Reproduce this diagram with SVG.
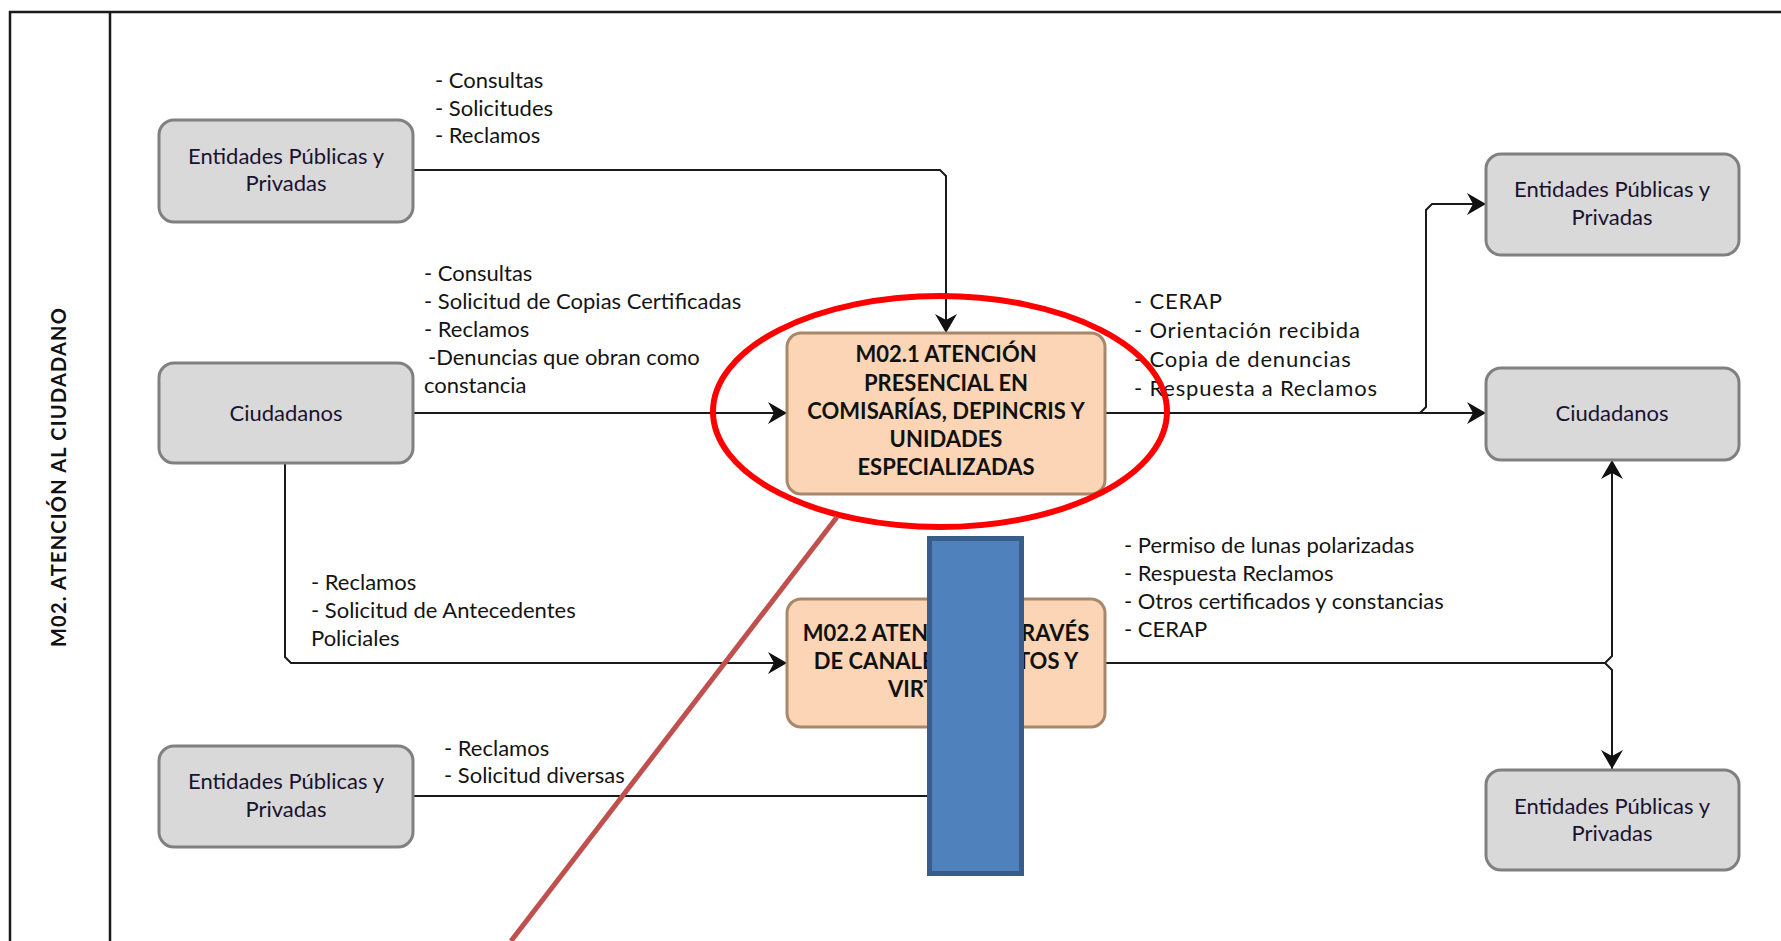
<svg xmlns="http://www.w3.org/2000/svg" width="1781" height="941" viewBox="0 0 1781 941">
<defs>
<style>
.lbl{font-family:Lato,"Liberation Sans",sans-serif;font-size:22px;fill:#141414}
.lbw{font-family:Lato,"Liberation Sans",sans-serif;font-size:22px;letter-spacing:0.8px;fill:#141414}
.nt{font-family:Lato,"Liberation Sans",sans-serif;font-size:22px;fill:#1a1230;text-anchor:middle}
.pt{font-family:Lato,"Liberation Sans",sans-serif;font-size:22px;font-weight:bold;fill:#111;text-anchor:middle}
.gray{fill:#D9D9D9;stroke:#808080;stroke-width:3}
.proc{fill:#FBD5B5;stroke:#A8876B;stroke-width:3}
.con{fill:none;stroke:#1a1a1a;stroke-width:2}
</style>
<marker id="ah" markerWidth="20" markerHeight="24" viewBox="-20 -12 20 24" refX="0" refY="0" orient="auto" markerUnits="userSpaceOnUse">
<path d="M0,0 L-19,-11 L-13,0 L-19,11 Z" fill="#111"/>
</marker>
</defs>
<rect x="0" y="0" width="1781" height="941" fill="#fff"/>
<g id="frame">
<rect x="10" y="12" width="1800" height="1000" fill="none" stroke="#1a1a1a" stroke-width="2.5"/>
<line x1="110" y1="12" x2="110" y2="941" stroke="#1a1a1a" stroke-width="2.5"/>
<text transform="translate(66,477) rotate(-90)" font-family="Lato,'Liberation Sans',sans-serif" font-size="20" font-weight="bold" letter-spacing="1.2" fill="#111" text-anchor="middle">M02. ATENCIÓN AL CIUDADANO</text>
</g>
<g id="connectors">
<path class="con" d="M412,170 H940 L946,176 V333" marker-end="url(#ah)"/>
<path class="con" d="M412,413 H787" marker-end="url(#ah)"/>
<path class="con" d="M285,463 V657 L291,663 H787" marker-end="url(#ah)"/>
<path class="con" d="M412,796 H929"/>
<path class="con" d="M1105,413 H1486" marker-end="url(#ah)"/>
<path class="con" d="M1420,413 L1426,407 V210 L1432,204 H1486" marker-end="url(#ah)"/>
<path class="con" d="M1105,663 H1605 L1612,656 V460" marker-end="url(#ah)"/>
<path class="con" d="M1605,663 L1612,670 V769" marker-end="url(#ah)"/>
</g>
<g id="labels">
<text class="lbl"><tspan x="435" y="88">- Consultas</tspan><tspan x="435" y="116">- Solicitudes</tspan><tspan x="435" y="143">- Reclamos</tspan></text>
<text class="lbl"><tspan x="424" y="281">- Consultas</tspan><tspan x="424" y="309">- Solicitud de Copias Certificadas</tspan><tspan x="424" y="337">- Reclamos</tspan><tspan x="428" y="365">-Denuncias que obran como</tspan><tspan x="424" y="393">constancia</tspan></text>
<text class="lbw"><tspan x="1134" y="309">- CERAP</tspan><tspan x="1134" y="338">- Orientación recibida</tspan><tspan x="1134" y="367">- Copia de denuncias</tspan><tspan x="1134" y="396">- Respuesta a Reclamos</tspan></text>
<text class="lbl"><tspan x="311" y="590">- Reclamos</tspan><tspan x="311" y="618">- Solicitud de Antecedentes</tspan><tspan x="311" y="646">Policiales</tspan></text>
<text class="lbl"><tspan x="444" y="756">- Reclamos</tspan><tspan x="444" y="783">- Solicitud diversas</tspan></text>
<text class="lbl"><tspan x="1124" y="553">- Permiso de lunas polarizadas</tspan><tspan x="1124" y="581">- Respuesta Reclamos</tspan><tspan x="1124" y="609">- Otros certificados y constancias</tspan><tspan x="1124" y="637">- CERAP</tspan></text>
</g>
<g id="n-ent1">
<rect class="gray" x="159" y="120" width="254" height="102" rx="15"/>
<text class="nt"><tspan x="286" y="164">Entidades Públicas y</tspan><tspan x="286" y="191">Privadas</tspan></text>
</g>
<g id="n-ciu1">
<rect class="gray" x="159" y="363" width="254" height="100" rx="15"/>
<text class="nt" x="286" y="421">Ciudadanos</text>
</g>
<g id="n-ent2">
<rect class="gray" x="159" y="746" width="254" height="101" rx="15"/>
<text class="nt"><tspan x="286" y="789">Entidades Públicas y</tspan><tspan x="286" y="817">Privadas</tspan></text>
</g>
<g id="n-m021">
<rect class="proc" x="787" y="333" width="318" height="161" rx="14"/>
<text class="pt"><tspan x="946" y="362">M02.1 ATENCIÓN</tspan><tspan x="946" y="391">PRESENCIAL EN</tspan><tspan x="946" y="419">COMISARÍAS, DEPINCRIS Y</tspan><tspan x="946" y="447">UNIDADES</tspan><tspan x="946" y="475">ESPECIALIZADAS</tspan></text>
</g>
<g id="n-m022">
<rect class="proc" x="787" y="599" width="318" height="128" rx="14"/>
<text class="pt"><tspan x="946" y="641">M02.2 ATENCIÓN A TRAVÉS</tspan><tspan x="946" y="669">DE CANALES REMOTOS Y</tspan><tspan x="946" y="697">VIRTUALES</tspan></text>
</g>
<g id="n-ent3">
<rect class="gray" x="1486" y="154" width="253" height="101" rx="15"/>
<text class="nt"><tspan x="1612" y="197">Entidades Públicas y</tspan><tspan x="1612" y="225">Privadas</tspan></text>
</g>
<g id="n-ciu2">
<rect class="gray" x="1486" y="368" width="253" height="92" rx="15"/>
<text class="nt" x="1612" y="421">Ciudadanos</text>
</g>
<g id="n-ent4">
<rect class="gray" x="1486" y="770" width="253" height="100" rx="15"/>
<text class="nt"><tspan x="1612" y="814">Entidades Públicas y</tspan><tspan x="1612" y="841">Privadas</tspan></text>
</g>
<g id="annotations">
<ellipse cx="940" cy="411.5" rx="227" ry="115.5" fill="none" stroke="#FF0000" stroke-width="6"/>
<line x1="837" y1="517" x2="511" y2="941" stroke="#C0504D" stroke-width="5"/>
<rect x="929.5" y="538.5" width="92" height="335" fill="#4F81BD" stroke="#385D8A" stroke-width="5"/>
</g>
</svg>
